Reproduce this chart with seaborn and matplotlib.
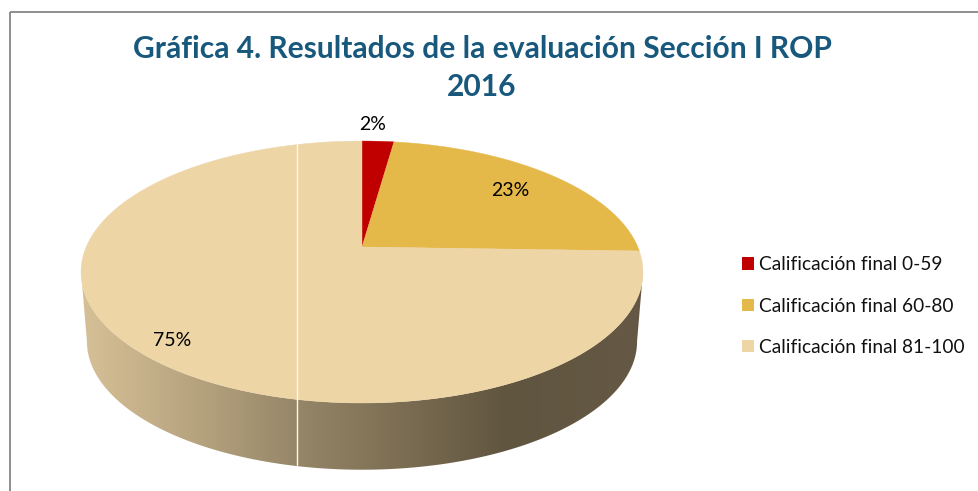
import numpy as np
import matplotlib
matplotlib.use("Agg")
import matplotlib.pyplot as plt
from matplotlib.patches import Patch, Polygon, Rectangle
from matplotlib.colors import LinearSegmentedColormap
import seaborn as sns

# Data
categories = ["Calificación final 0-59", "Calificación final 60-80", "Calificación final 81-100"]
shares = [2.2, 23.3, 74.5]
slice_labels = ["2%", "23%", "75%"]
slice_colors = ["#C00000", "#E5B84A", "#EDD5A6"]
title_lines = ["Gráfica 4. Resultados de la evaluación Sección I ROP", "2016"]

sns.set_theme(style="white")
plt.rcParams["font.family"] = ["Lato", "DejaVu Sans"]
palette = sns.color_palette(slice_colors)

fig = plt.figure(figsize=(9.79, 4.91), dpi=100, facecolor="white")
ax = fig.add_axes([0, 0, 1, 1])
ax.set_xlim(0, 979)
ax.set_ylim(491, 0)
ax.axis("off")

CX, CY, A, B, K = 362.0, 247.0, 275.8, 126.2, 0.191


def project(t, scale=1.0, cy=CY):
    u, v = np.sin(t), np.cos(t)
    w = 1 + K * v
    return CX + scale * A * u / w, cy - scale * B * v / w


# Side of the pie, with its horizontal gradient
stops = [(0.0, "#D6C097"), (0.2, "#B7A47F"), (0.385, "#968668"), (0.56, "#7D6F54"),
         (0.76, "#60553F"), (1.0, "#655945")]
cmap = LinearSegmentedColormap.from_list("side", stops)
grad = np.linspace(0, 1, 560).reshape(1, -1)
im = ax.imshow(grad, extent=(81, 643, 480, 260), cmap=cmap, aspect="auto", zorder=1)
hull_t = np.linspace(np.pi / 2 + 0.19, 3 * np.pi / 2 - 0.19, 300)
xa, ya = project(hull_t)
xc, yc = project(hull_t, scale=0.979, cy=317)
clip = Polygon(np.r_[np.c_[xa, ya], np.c_[xc, yc][::-1]], closed=True,
               transform=ax.transData, fc="none", ec="none")
ax.add_patch(clip)
im.set_clip_path(clip)
ax.set_xlim(0, 979)
ax.set_ylim(491, 0)

# Top face, one slice for each share
edges = np.cumsum([0] + shares) / np.sum(shares) * 2 * np.pi
for start, stop, color in zip(edges[:-1], edges[1:], palette):
    t = np.linspace(start, stop, 300)
    x, y = project(t)
    ax.fill(np.r_[CX, x], np.r_[CY, y], color=color, lw=0.3, zorder=2)

# Thin white seam across the pie
ax.plot([297, 297], [143.5, 465], color="#FFF8EA", lw=1.0, zorder=3)

# Slice labels
label_xy = [(373, 124), (510, 190), (172, 340)]
for (lx, ly), s in zip(label_xy, slice_labels):
    ax.text(lx, ly, s, ha="center", va="center", fontsize=14, color="black", zorder=4)

for (ty, line) in zip((49, 87), title_lines):
    ax.text(482, ty, line, ha="center", va="center", fontsize=21.6, fontweight="bold",
            color="#17587C", zorder=4)

handles = [Patch(fc=c, ec="none") for c in palette]
ax.legend(handles, categories, loc="center left", bbox_to_anchor=(742 / 979, 1 - 306 / 491),
          frameon=False, fontsize=13.8, labelspacing=1.27, handlelength=0.62, handleheight=0.62,
          handletextpad=0.26, borderpad=0, borderaxespad=0, labelcolor="#111111")

# Outer frame
ax.add_patch(Rectangle((10.5, 11.5), 1000, 600, fc="none", ec="#868686", lw=1.3, zorder=5))

fig.savefig("out.png", dpi=100, facecolor="white")
